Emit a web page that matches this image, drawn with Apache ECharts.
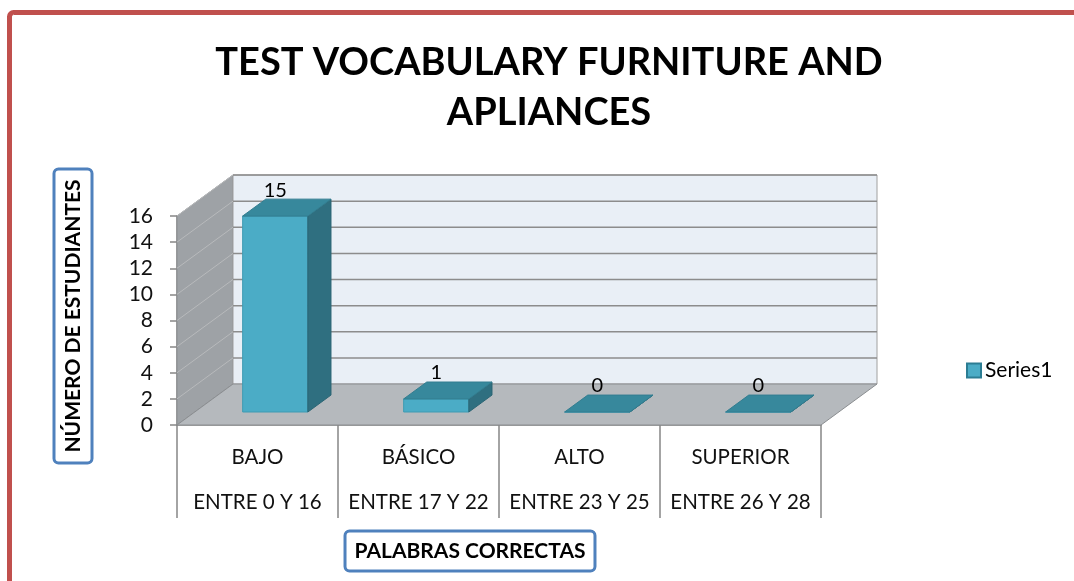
<!DOCTYPE html>
<html>
<head>
<meta charset="utf-8">
<script src="https://cdn.jsdelivr.net/npm/echarts@6/dist/echarts.min.js"></script>
<style>
  html, body { margin: 0; padding: 0; background: #fff; }
  #chart { width: 1074px; height: 581px; }
</style>
</head>
<body>
<div id="chart"></div>
<script>
// datos del gráfico
const categorias = ['BAJO', 'BÁSICO', 'ALTO', 'SUPERIOR'];
const rangos = ['ENTRE 0 Y 16', 'ENTRE 17 Y 22', 'ENTRE 23 Y 25', 'ENTRE 26 Y 28'];
const estudiantes = [15, 1, 0, 0];
const serieNombre = 'Series1';
const ejeMin = 0;
const ejeMax = 16;
const ejeIntervalo = 2;

// desplazamiento de profundidad (efecto 3D)
const DX = 56;
const DY = -41;
const FRENTE = 0.317;
const FONDO = 0.73;
const FONT = 'Lato, "Noto Sans", sans-serif';

const chart = echarts.init(document.getElementById('chart'), null, { renderer: 'canvas' });

const renderDecor = (params, api) => {
    const cs = params.coordSys;
    const x0 = cs.x, x1 = cs.x + cs.width;
    const yTop = cs.y, yBot = cs.y + cs.height;
    const children = [];

    // pared izquierda
    children.push({
        type: 'polygon',
        shape: { points: [[x0, yTop], [x0 + DX, yTop + DY], [x0 + DX, yBot + DY], [x0, yBot]] },
        style: { fill: '#9ea2a6', stroke: '#8a8d90', lineWidth: 1 }
    });
    // pared de fondo
    children.push({
        type: 'rect',
        shape: { x: x0 + DX, y: yTop + DY, width: cs.width, height: cs.height },
        style: { fill: '#e9eff6', stroke: '#a0a0a0', lineWidth: 1 }
    });
    // piso
    children.push({
        type: 'polygon',
        shape: { points: [[x0, yBot], [x1, yBot], [x1 + DX, yBot + DY], [x0 + DX, yBot + DY]] },
        style: { fill: '#b5b9bd', stroke: '#8a8d90', lineWidth: 1 }
    });
    // líneas de la cuadrícula
    for (let v = ejeMin + ejeIntervalo; v <= ejeMax; v += ejeIntervalo) {
        const y = api.coord([0, v])[1];
        children.push({
            type: 'line',
            shape: { x1: x0 + DX, y1: y + DY, x2: x1 + DX, y2: y + DY },
            style: { stroke: '#8c8c8c', lineWidth: 1.5 }
        });
        children.push({
            type: 'line',
            shape: { x1: x0, y1: y, x2: x0 + DX, y2: y + DY },
            style: { stroke: '#b8babc', lineWidth: 1 }
        });
    }
    return { type: 'group', children };
};

const renderBarra = (params, api) => {
    const i = api.value(0);
    const v = api.value(1);
    const base = api.coord([i, 0]);
    const top = api.coord([i, v]);
    const w = api.size([1, 0])[0] * 0.405;
    const fx = DX * FRENTE, fy = DY * FRENTE;
    const ddx = DX * (FONDO - FRENTE), ddy = DY * (FONDO - FRENTE);
    const xl = base[0] - w / 2 + fx;
    const xr = xl + w;
    const yb = base[1] + fy;
    const yt = top[1] + fy;

    return {
        type: 'group',
        children: [
            {
                type: 'rect',
                shape: { x: xl, y: yt, width: w, height: yb - yt },
                style: { fill: '#4bacc6', stroke: '#3f9bb3', lineWidth: 1 }
            },
            {
                type: 'polygon',
                shape: { points: [[xr, yt], [xr + ddx, yt + ddy], [xr + ddx, yb + ddy], [xr, yb]] },
                style: { fill: '#2f6f80', stroke: '#2a6574', lineWidth: 1 }
            },
            {
                type: 'polygon',
                shape: { points: [[xl, yt], [xr, yt], [xr + ddx, yt + ddy], [xl + ddx, yt + ddy]] },
                style: { fill: '#37889c', stroke: '#327d90', lineWidth: 1 }
            },
            {
                type: 'text',
                style: {
                    x: (xl + xr) / 2,
                    y: yt - 26,
                    text: String(v),
                    fill: '#000',
                    font: '20px ' + FONT,
                    textAlign: 'center',
                    textVerticalAlign: 'middle'
                }
            }
        ]
    };
};

const option = {
    animation: false,
    title: {
        text: 'TEST VOCABULARY FURNITURE AND\nAPLIANCES',
        left: 544,
        top: 33,
        textAlign: 'center',
        textStyle: {
            fontFamily: FONT,
            fontWeight: 'bold',
            fontSize: 38,
            lineHeight: 50,
            color: '#000'
        }
    },
    legend: {
        data: [serieNombre],
        left: 961,
        top: 355,
        icon: 'rect',
        itemWidth: 14,
        itemHeight: 14,
        textStyle: { fontFamily: FONT, fontSize: 21, color: '#000', padding: [0, 0, 0, -1] }
    },
    grid: {
        left: 177,
        right: 253,
        top: 216,
        bottom: 156
    },
    xAxis: {
        type: 'category',
        data: categorias,
        boundaryGap: true,
        axisLine: { show: true, lineStyle: { color: '#868686', width: 1.5 } },
        axisTick: {
            show: true,
            interval: 0,
            length: 93,
            lineStyle: { color: '#868686', width: 1.5 }
        },
        axisLabel: {
            interval: 0,
            margin: 10,
            fontFamily: FONT,
            fontSize: 20.5,
            lineHeight: 45,
            color: '#111',
            formatter: (val, idx) => val + '\n' + rangos[idx]
        },
        splitLine: { show: false }
    },
    yAxis: {
        type: 'value',
        min: ejeMin,
        max: ejeMax,
        interval: ejeIntervalo,
        axisLine: { show: true, lineStyle: { color: '#868686', width: 1.5 } },
        axisTick: { show: true, length: 7, lineStyle: { color: '#868686', width: 1.5 } },
        axisLabel: {
            margin: 24,
            fontFamily: FONT,
            fontSize: 21,
            color: '#111'
        },
        splitLine: { show: false }
    },
    graphic: [
        {
            type: 'rect',
            left: 7,
            top: 10,
            shape: { width: 1120, height: 640, r: 4 },
            style: { fill: 'none', stroke: '#c0504d', lineWidth: 5 }
        },
        {
            type: 'text',
            x: 73,
            y: 316,
            rotation: Math.PI / 2,
            style: {
                text: 'NÚMERO DE ESTUDIANTES',
                font: 'bold 21px ' + FONT,
                fill: '#000',
                align: 'center',
                verticalAlign: 'middle',
                padding: [7, 9, 7, 9],
                borderColor: '#4f81bd',
                borderWidth: 3,
                borderRadius: 3,
                backgroundColor: '#fff'
            }
        },
        {
            type: 'text',
            x: 470,
            y: 551,
            style: {
                text: 'PALABRAS CORRECTAS',
                font: 'bold 21px ' + FONT,
                fill: '#000',
                align: 'center',
                verticalAlign: 'middle',
                padding: [8, 8, 8, 8],
                borderColor: '#4f81bd',
                borderWidth: 3,
                borderRadius: 3,
                backgroundColor: '#fff'
            }
        }
    ],
    series: [
        {
            name: 'decor',
            type: 'custom',
            z: 1,
            silent: true,
            renderItem: renderDecor,
            data: [[0, 0]]
        },
        {
            name: serieNombre,
            type: 'custom',
            z: 2,
            itemStyle: { color: '#4bacc6', borderColor: '#2c7d93', borderWidth: 1 },
            renderItem: renderBarra,
            data: estudiantes.map((v, i) => [i, v])
        }
    ]
};

chart.setOption(option);
</script>
</body>
</html>
